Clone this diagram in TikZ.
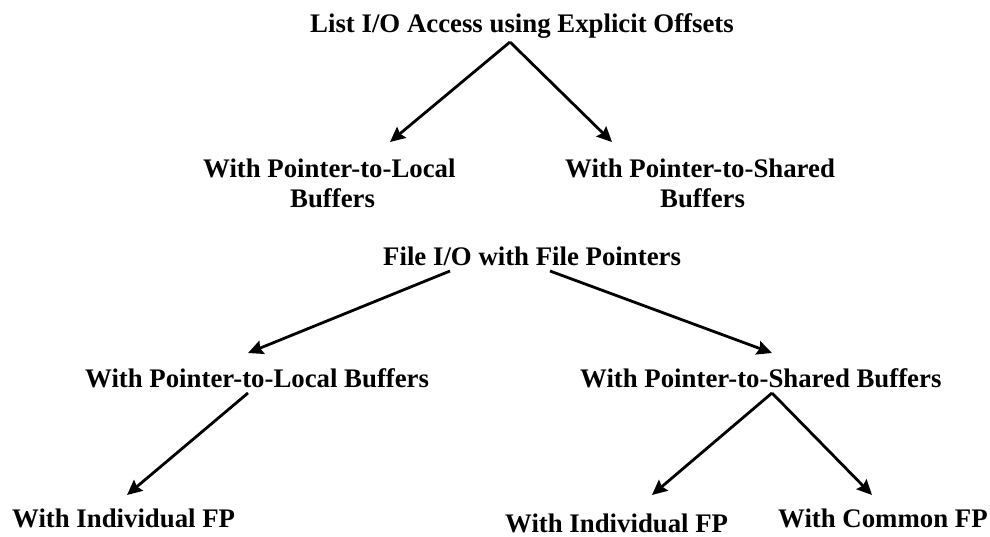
\documentclass[tikz,border=0pt]{standalone}
\usepackage{fontspec}
\setmainfont{Liberation Serif}
\usetikzlibrary{arrows.meta}
\begin{document}
\begin{tikzpicture}[x=1pt,y=-1pt,
  lbl/.style={anchor=base west,inner sep=0pt,font=\fontsize{26.8}{30}\selectfont\bfseries},
  arr/.style={line width=2.8pt,-{Stealth[length=15pt,width=14pt,inset=2pt]}}]
\useasboundingbox (0,0) rectangle (990,536);
\node[lbl] (title) at (310,32) {List I/O Access using Explicit Offsets};
\node[lbl] (pla) at (203,177) {With Pointer-to-Local};
\node[lbl] (plb) at (290,207) {Buffers};
\node[lbl] (psa) at (565,177) {With Pointer-to-Shared};
\node[lbl] (psb) at (660,207) {Buffers};
\node[lbl] (file) at (383,265) {File I/O with File Pointers};
\node[lbl] (pl) at (85,387) {With Pointer-to-Local Buffers};
\node[lbl] (ps) at (580,387) {With Pointer-to-Shared Buffers};
\node[lbl] (ind1) at (12,527) {With Individual FP};
\node[lbl] (ind2) at (505,532) {With Individual FP};
\node[lbl] (com) at (778,527) {With Common FP};
\draw[arr] ([shift={(200,10)}]title.base west) -- ([shift={(187,-35)}]pla.base west);
\draw[arr] ([shift={(200,10)}]title.base west) -- ([shift={(47,-35)}]psa.base west);
\draw[arr] ([shift={(67,6)}]file.base west) -- ([shift={(163,-34)}]pl.base west);
\draw[arr] ([shift={(167,6)}]file.base west) -- ([shift={(192,-34)}]ps.base west);
\draw[arr] ([shift={(163,6)}]pl.base west) -- ([shift={(115,-32)}]ind1.base west);
\draw[arr] ([shift={(192,6)}]ps.base west) -- ([shift={(147,-37)}]ind2.base west);
\draw[arr] ([shift={(192,6)}]ps.base west) -- ([shift={(94,-32)}]com.base west);
\end{tikzpicture}
\end{document}
